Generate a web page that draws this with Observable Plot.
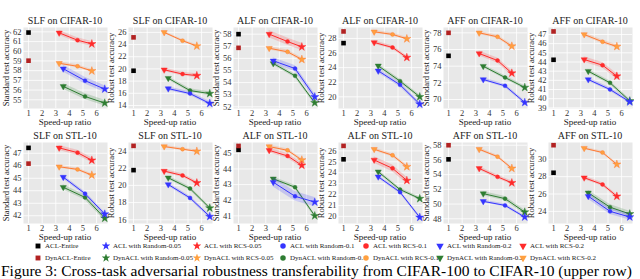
<!DOCTYPE html>
<html><head><meta charset="utf-8">
<script src="https://cdn.jsdelivr.net/npm/d3@7"></script>
<script src="https://cdn.jsdelivr.net/npm/@observablehq/plot@0.6"></script>
<style>
body{margin:0;background:#fff;}
#root{position:relative;width:640px;height:279px;overflow:hidden;font-family:"Liberation Serif",serif;font-weight:400;color:#222;}
.abs{position:absolute;white-space:nowrap;font-family:"Liberation Serif",serif;font-weight:400;}
.ptitle{font-size:10px;line-height:12px;text-align:center;color:#222;}
.xlab{font-size:9px;line-height:9px;text-align:center;color:#222;}
.ylab{font-size:8.5px;line-height:10px;text-align:center;width:100px;transform:translate(-50%,-50%) rotate(-90deg);color:#222;}
.leg{font-size:7px;line-height:8px;display:flex;align-items:center;}
.leg svg{margin-right:3px;}
.caption{font-size:15.5px;line-height:17px;color:#000;}
</style></head><body><div id="root"></div>
<script>
// ---------- data ----------
const panelTitles = ["SLF on CIFAR-10","SLF on CIFAR-10","ALF on CIFAR-10","ALF on CIFAR-10","AFF on CIFAR-10","AFF on CIFAR-10",
                     "SLF on STL-10","SLF on STL-10","ALF on STL-10","ALF on STL-10","AFF on STL-10","AFF on STL-10"];
const yLabels = ["Standard test accuracy","Robust test accuracy"];
const xLabel = "Speed-up ratio";
const xTicks = [1,2,3,4,5,6];
const xEntire = 1;
const xRCS = [3.25, 4.6, 5.65];      // ratio 0.2, 0.1, 0.05
const xRandom = [3.55, 5.15, 6.6];   // ratio 0.2, 0.1, 0.05
const yDomains = [[54.1,62.45],[13.5,26.8],[51.86,58.55],[18.4,29.5],[68.92,78.64],[38.93,47.76],
                  [41.38,47.86],[15.57,24.98],[40.51,45.69],[19.35,26.77],[47.36,58.37],[22.6,31.94]];
const yTicks = [[55,56,57,58,59,60,61,62],[14,16,18,20,22,24,26],[52,53,54,55,56,57,58],[20,22,24,26,28],[70,72,74,76,78],[39,40,41,42,43,44,45,46,47],
                [42,43,44,45,46,47],[16,18,20,22,24],[41,42,43,44,45],[20,21,22,23,24,25,26],[48,50,52,54,56,58],[24,26,28,30]];
const aclEntire = [61.93,19.7,58.0,27.36,75.24,44.24,47.43,21.77,45.22,25.23,56.08,28.45];
const dynEntire = [59.03,25.18,56.87,28.96,78.0,47.33,46.17,24.59,45.47,26.46,58.0,31.63];
const aclRCS = [[61.9,61.14,60.76],[19.86,19.15,18.9],[58.0,57.39,56.95],[27.45,26.76,25.39],[75.52,74.68,73.16],[44.27,43.65,42.45],
                [47.43,47.05,46.44],[21.66,21.15,20.29],[45.19,44.83,44.23],[25.17,24.4,23.29],[54.85,53.7,52.89],[27.88,27.1,25.74]];
const dynRCS = [[58.76,58.45,57.97],[26.0,24.63,23.75],[56.84,56.54,55.91],[28.91,28.55,27.95],[78.0,77.52,76.4],[47.0,46.2,45.69],
                [45.92,45.71,45.25],[24.51,24.2,23.96],[45.43,45.19,44.57],[26.15,25.6,24.55],[57.45,56.45,54.85],[31.28,30.78,29.42]];
const aclRandom = [[58.2,56.97,56.1],[16.77,15.95,14.33],[55.8,55.16,52.82],[23.56,21.64,19.0],[72.4,71.64,69.64],[42.09,41.0,39.65],
                   [45.09,43.77,42.13],[20.1,18.54,16.38],[43.15,42.25,41.88],[23.63,22.22,19.91],[50.37,49.82,48.23],[25.75,24.0,23.35]];
const dynRandom = [[56.38,55.34,54.66],[18.47,16.44,15.95],[55.58,54.56,52.33],[24.25,22.15,20.0],[74.0,72.64,71.44],[43.0,41.73,39.76],
                   [44.28,43.47,41.8],[20.88,19.63,17.36],[43.37,42.83,41.0],[24.09,22.46,21.63],[51.42,50.74,48.91],[26.14,24.48,23.7]];
// half-width of shaded bands
const errACLRCS    = [0.25,0.3,0.3,0.25,0.3,0.3,0.2,0.2,0.15,0.3,0.25,0.2];
const errDynRCS    = [0.15,0.2,0.15,0.2,0.2,0.2,0.12,0.15,0.1,0.15,0.2,0.15];
const errACLRandom = [0.35,0.3,0.25,0.3,0.2,0.2,0.15,0.2,0.3,0.15,0.2,0.35];
const errDynRandom = [0.3,0.3,0.15,0.25,0.2,0.2,0.2,0.2,0.12,0.15,0.3,0.3];
const legendACL = ["ACL-Entire","ACL with Random-0.05","ACL with RCS-0.05","ACL with Random-0.1","ACL with RCS-0.1","ACL with Random-0.2","ACL with RCS-0.2"];
const legendDyn = ["DynACL-Entire","DynACL with Random-0.05","DynACL with RCS-0.05","DynACL with Random-0.1","DynACL with RCS-0.1","DynACL with Random-0.2","DynACL with RCS-0.2"];
const caption = "Figure 3: Cross-task adversarial robustness transferability from CIFAR-100 to CIFAR-10 (upper row)";

// ---------- styling ----------
const C = {red:"#ff2b2b", orange:"#ff7a33", orangeM:"#ffa040", blue:"#3535ff", green:"#2e7d32", black:"#000", darkred:"#b22222"};
const triDown = {draw(ctx, size){const a=Math.sqrt(4*size/Math.sqrt(3)), h=Math.sqrt(3)/2*a;
  ctx.moveTo(-a/2,-h/3); ctx.lineTo(a/2,-h/3); ctx.lineTo(0,2*h/3); ctx.closePath();}};
const markerSyms = [triDown, d3.symbolCircle, d3.symbolStar];
const markerR = [2.3, 2.0, 2.6];
const series = [
  {vals: dynRCS, xs: xRCS, line: C.orange, mark: C.orangeM, err: errDynRCS},
  {vals: aclRCS, xs: xRCS, line: C.red, mark: C.red, err: errACLRCS},
  {vals: dynRandom, xs: xRandom, line: C.green, mark: C.green, err: errDynRandom},
  {vals: aclRandom, xs: xRandom, line: C.blue, mark: C.blue, err: errACLRandom},
];

const root = document.getElementById("root");
function div(cls, text, css){const d=document.createElement("div"); d.className="abs "+cls; d.textContent=text; Object.assign(d.style, css); root.appendChild(d); return d;}

const PW = 105, PL = 23, PIW = 84, PIH = 81, MT = 13;
for (let p = 0; p < 12; p++) {
  const c = p % 6, r = Math.floor(p / 6);
  const left = PW * c, top = 14 + 115 * r;
  const marks = [
    Plot.frame({fill: "#e8e8e8", stroke: "none"}),
    Plot.ruleX(xTicks, {stroke: "#fff", strokeWidth: 0.8}),
    Plot.ruleY(yTicks[p], {stroke: "#fff", strokeWidth: 0.8}),
  ];
  for (const s of series) {
    const rows = s.vals[p].map((v, k) => ({x: s.xs[k], y: v, lo: v - s.err[p], hi: v + s.err[p], k}));
    marks.push(Plot.areaY(rows, {x: "x", y1: "lo", y2: "hi", fill: s.line, fillOpacity: 0.2}));
    marks.push(Plot.line(rows, {x: "x", y: "y", stroke: s.line, strokeWidth: 1}));
    for (let k = 0; k < 3; k++) {
      marks.push(Plot.dot(rows.filter(d => d.k === k), {x: "x", y: "y", symbol: markerSyms[k], r: markerR[k], fill: s.mark, stroke: s.line, strokeWidth: 0.4}));
    }
  }
  marks.push(Plot.dot([{x: xEntire, y: aclEntire[p]}], {x: "x", y: "y", symbol: "square", r: 2.6, fill: C.black}));
  marks.push(Plot.dot([{x: xEntire, y: dynEntire[p]}], {x: "x", y: "y", symbol: "square", r: 2.6, fill: C.darkred}));
  const svg = Plot.plot({
    width: PL + PIW + 3, height: MT + PIH + 12,
    marginLeft: PL, marginRight: 3, marginTop: MT, marginBottom: 12,
    style: {background: "transparent", fontFamily: "Liberation Serif, serif", fontSize: "8.5px", color: "#333", overflow: "visible"},
    x: {domain: [0.63, 6.8], ticks: xTicks, tickSize: 0, tickPadding: 1, label: null, tickFormat: d => String(d)},
    y: {domain: yDomains[p], ticks: yTicks[p], tickSize: 0, tickPadding: 2, label: null, tickFormat: d => String(d)},
    marks
  });
  svg.style.position = "absolute"; svg.style.left = left + "px"; svg.style.top = top + "px";
  root.appendChild(svg);
  div("ptitle", panelTitles[p], {left: (left + PL) + "px", top: (115 * r + 15) + "px", width: PIW + "px"});
  div("xlab", xLabel, {left: (left + PL) + "px", top: (115 * r + 117.5) + "px", width: PIW + "px"});
  div("ylab", yLabels[p % 2], {left: (left + 6) + "px", top: (115 * r + 14 + MT + PIH / 2) + "px"});
}

// legend
const legendCols = [34, 102, 193, 279, 362, 436, 519];
const legSyms = [d3.symbolSquare, d3.symbolStar, d3.symbolStar, d3.symbolCircle, d3.symbolCircle, triDown, triDown];
const legColorsACL = [C.black, C.blue, C.red, C.blue, C.red, C.blue, C.red];
const legColorsDyn = [C.darkred, C.green, C.orangeM, C.green, C.orangeM, C.green, C.orangeM];
[[legendACL, legColorsACL, 242], [legendDyn, legColorsDyn, 253.5]].forEach(([labels, cols, y]) => {
  labels.forEach((lab, i) => {
    const d = document.createElement("div"); d.className = "abs leg";
    d.style.left = legendCols[i] + "px"; d.style.top = y + "px";
    const sv = d3.create("svg").attr("width", 8).attr("height", 8);
    sv.append("path").attr("transform", "translate(4,4)").attr("d", d3.symbol(legSyms[i], 24)()).attr("fill", cols[i]);
    d.appendChild(sv.node());
    const t = document.createElement("span"); t.textContent = lab; d.appendChild(t);
    root.appendChild(d);
  });
});
div("caption", caption, {left: "1px", top: "262px"});
</script></body></html>
